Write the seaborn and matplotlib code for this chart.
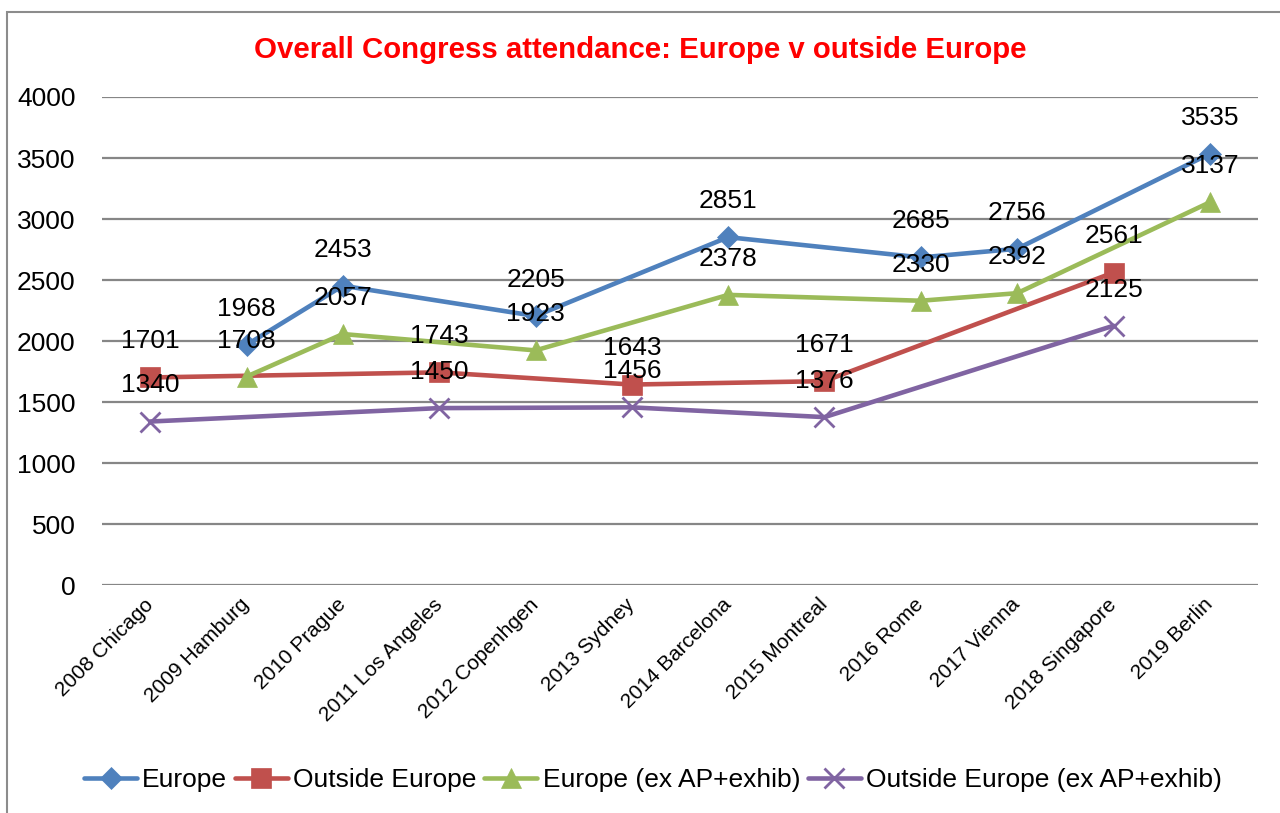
import matplotlib
matplotlib.use("Agg")
import matplotlib.pyplot as plt
import seaborn as sns
import numpy as np
import pandas as pd
from matplotlib.patches import Rectangle

# ---------- data ----------
cities = ["2008 Chicago", "2009 Hamburg", "2010 Prague", "2011 Los Angeles",
          "2012 Copenhgen", "2013 Sydney", "2014 Barcelona", "2015 Montreal",
          "2016 Rome", "2017 Vienna", "2018 Singapore", "2019 Berlin"]
europe = [np.nan, 1968, 2453, np.nan, 2205, np.nan, 2851, np.nan, 2685, 2756, np.nan, 3535]
outside = [1701, np.nan, np.nan, 1743, np.nan, 1643, np.nan, 1671, np.nan, np.nan, 2561, np.nan]
europe_ex = [np.nan, 1708, 2057, np.nan, 1923, np.nan, 2378, np.nan, 2330, 2392, np.nan, 3137]
outside_ex = [1340, np.nan, np.nan, 1450, np.nan, 1456, np.nan, 1376, np.nan, np.nan, 2125, np.nan]

series_names = ["Europe", "Outside Europe", "Europe (ex AP+exhib)", "Outside Europe (ex AP+exhib)"]
series_vals = [europe, outside, europe_ex, outside_ex]
colors = ["#4F81BD", "#C0504D", "#9BBB59", "#8064A2"]
markers = ["D", "s", "^", "x"]
msizes = [11, 14, 14, 14]

rows = []
for name, vals in zip(series_names, series_vals):
    for i, v in enumerate(vals):
        rows.append({"series": name, "pos": i, "city": cities[i], "value": v})
df = pd.DataFrame(rows).dropna()

sns.set_style("white")
plt.rcParams["font.family"] = ["Liberation Sans", "DejaVu Sans"]
plt.rcParams["text.color"] = "black"
plt.rcParams["xtick.color"] = "black"
plt.rcParams["ytick.color"] = "black"

fig = plt.figure(figsize=(12.8, 8.13), dpi=100)
ax = fig.add_axes([102 / 1280, 1 - 585 / 813, (1258 - 102) / 1280, (585 - 97) / 813])

for name, col, mk, ms in zip(series_names, colors, markers, msizes):
    sub = df[df["series"] == name]
    sns.lineplot(data=sub, x="pos", y="value", color=col, marker=mk, markersize=ms,
                 markeredgecolor=col, markeredgewidth=2 if mk == "x" else 0.5,
                 linewidth=3.3, label=name, ax=ax, zorder=3)
    for _, r in sub.iterrows():
        ax.annotate(f"{int(r['value'])}", (r["pos"], r["value"]), xytext=(0, 26),
                    textcoords="offset points", ha="center", va="center",
                    fontsize=19, color="black", zorder=5)

ax.set_xlim(-0.5, len(cities) - 0.5)
ax.set_ylim(0, 4000)
ax.set_yticks(range(0, 4001, 500))
ax.set_xticks(range(len(cities)))
ax.set_xticklabels(cities, rotation=45, ha="right", va="center", rotation_mode="anchor",
                   fontsize=15)
ax.tick_params(axis="y", labelsize=19, length=0, pad=19)
ax.tick_params(axis="x", length=0, pad=12)
ax.grid(axis="y", color="#868686", linewidth=1.6)
ax.set_axisbelow(True)
for s in ax.spines.values():
    s.set_visible(False)
ax.set_xlabel("")
ax.set_ylabel("")

fig.text(0.5, 1 - 50 / 813, "Overall Congress attendance: Europe v outside Europe",
         ha="center", va="center", fontsize=21.2, fontweight="bold", color="#FF0000")

ax.legend(loc="center", bbox_to_anchor=(653 / 1280, 1 - 780 / 813),
          bbox_transform=fig.transFigure, ncol=4, frameon=False, fontsize=19,
          handlelength=2.0, handletextpad=0.2, columnspacing=0.3)

fig.patches.append(Rectangle((7 / 1280, -0.1), 1.2, 1.1 - 12 / 813, transform=fig.transFigure,
                             fill=False, edgecolor="#8C8C8C", linewidth=1.5))

fig.savefig("out.png", dpi=100)
